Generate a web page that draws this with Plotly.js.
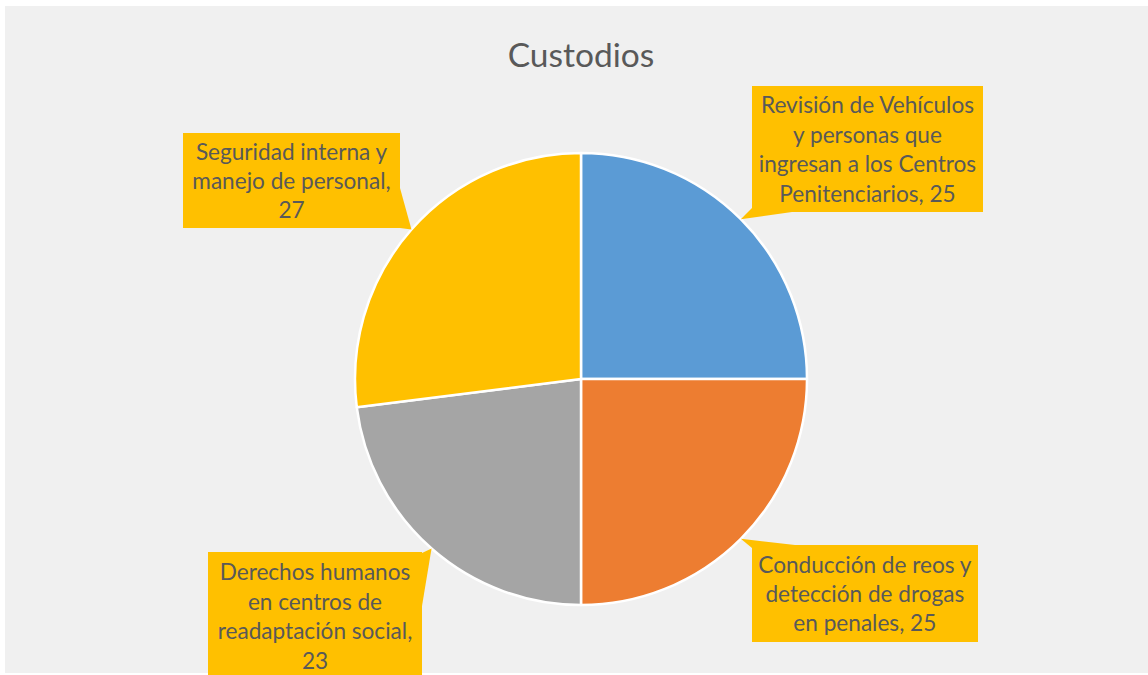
<!DOCTYPE html>
<html>
<head>
<meta charset="utf-8">
<script src="https://cdn.plot.ly/plotly-3.0.1.min.js"></script>
<style>html,body{margin:0;padding:0;background:#fff;}#chart{width:1148px;height:675px;}</style>
</head>
<body>
<div id="chart"></div>
<script>
const categories = [
  "Revisión de Vehículos y personas que ingresan a los Centros Penitenciarios",
  "Conducción de reos y detección de drogas en penales",
  "Derechos humanos en centros de readaptación social",
  "Seguridad interna y manejo de personal"
];
const labelLines = [
  ["Revisión de Vehículos", "y personas que", "ingresan a los Centros", "Penitenciarios, 25"],
  ["Conducción de reos y", "detección de drogas", "en penales, 25"],
  ["Derechos humanos", "en centros de", "readaptación social,", "23"],
  ["Seguridad interna y", "manejo de personal,", "27"]
];
const values = [25, 25, 23, 27];
const colors = ["#5B9BD5", "#ED7D31", "#A5A5A5", "#FFC000"];

const W = 1148, H = 675;
const cx = 581, cy = 379, R = 226;
const px = x => x / W;
const py = y => 1 - y / H;

// callout boxes (pixel layout): center x, center y, width, height
const boxes = [
  {x: 867.5, y: 149, w: 231, h: 126},
  {x: 865, y: 593.5, w: 226, h: 97},
  {x: 315, y: 616, w: 214, h: 128},
  {x: 291.5, y: 180.5, w: 217, h: 95}
];
// wedge base points (pixel layout)
const bases = [
  [[752, 208], [792, 212]],
  [[752, 548], [795, 545]],
  [[422, 553], [422, 606]],
  [[400, 188], [400, 228]]
];

const total = values.reduce((a, b) => a + b, 0);
let cum = 0;
const tips = values.map(v => {
  const mid = (cum + v / 2) / total * 2 * Math.PI;
  cum += v;
  return [cx + R * Math.sin(mid), cy - R * Math.cos(mid)];
});

const shapes = [{
  type: 'rect', xref: 'paper', yref: 'paper', layer: 'below',
  x0: px(5), x1: 1, y0: py(673), y1: py(6),
  fillcolor: '#F0F0F0', line: {width: 0}
}];
tips.forEach((t, i) => {
  const b = bases[i];
  shapes.push({
    type: 'path', xref: 'paper', yref: 'paper', layer: 'above',
    path: `M ${px(t[0])} ${py(t[1])} L ${px(b[0][0])} ${py(b[0][1])} L ${px(b[1][0])} ${py(b[1][1])} Z`,
    fillcolor: '#FFC000', line: {width: 0}
  });
});

const annotations = boxes.map((b, i) => ({
  xref: 'paper', yref: 'paper', x: px(b.x), y: py(b.y),
  xanchor: 'center', yanchor: 'middle',
  text: labelLines[i].join('<br>'),
  showarrow: false, align: 'center',
  width: b.w, height: b.h, bgcolor: '#FFC000',
  borderpad: 0, borderwidth: 0,
  font: {family: 'Lato, sans-serif', size: 22.6, color: '#595959'}
}));

const data = [{
  type: 'pie',
  labels: categories,
  values: values,
  sort: false,
  direction: 'clockwise',
  rotation: 0,
  textinfo: 'none',
  hoverinfo: 'label+value',
  marker: {colors: colors, line: {color: '#FFFFFF', width: 2.5}},
  domain: {x: [px(cx - R), px(cx + R)], y: [py(cy + R), py(cy - R)]},
  showlegend: false
}];

const layout = {
  width: W, height: H,
  margin: {l: 0, r: 0, t: 0, b: 0},
  paper_bgcolor: '#FFFFFF',
  showlegend: false,
  title: {
    text: 'Custodios', x: px(581), xanchor: 'center', y: py(55), yanchor: 'middle',
    font: {family: 'Lato, sans-serif', size: 33.5, color: '#595959'}
  },
  shapes: shapes,
  annotations: annotations
};

Plotly.newPlot('chart', data, layout, {displayModeBar: false, staticPlot: true});
</script>
</body>
</html>
